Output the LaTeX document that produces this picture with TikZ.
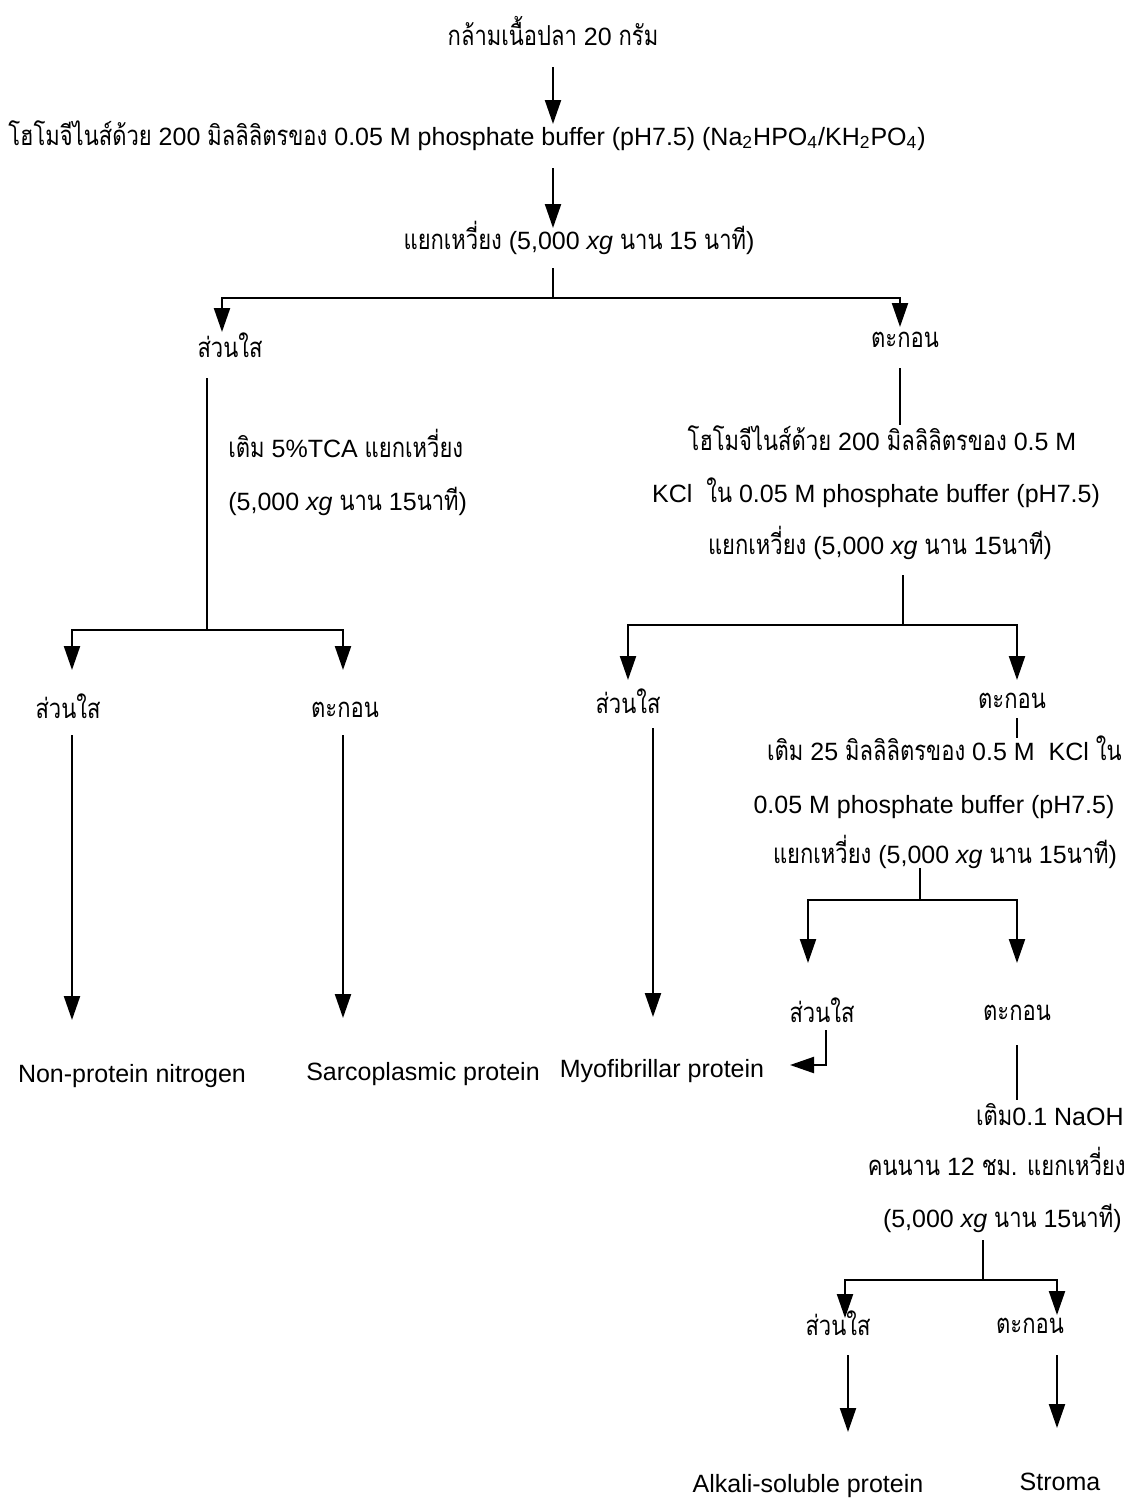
\documentclass[tikz,border=0pt]{standalone}
\usepackage{fontspec}
\setmainfont{Liberation Sans}
\newfontfamily\thai[Script=Thai,Scale=1.1,FakeStretch=0.8]{Loma}
\usetikzlibrary{arrows.meta}
\newcommand{\T}[1]{{\thai #1}}
\begin{document}
\begin{tikzpicture}[x=0.5pt,y=-0.5pt,
  txt/.style={inner sep=0pt,font=\fontsize{12.5}{15}\selectfont,text height=0.75em,text depth=0.25em},
  ln/.style={line width=1.1pt},
  arr/.style={line width=1.1pt,-{Triangle[length=12pt,width=8pt]}}]
\useasboundingbox (0,0) rectangle (1128,1499);
% texts
\node[txt] (t1) at (553,40) {\T{กล้ามเนื้อปลา} 20 \T{กรัม}};
\node[txt] (t2) at (467,140) {\T{โฮโมจีไนส์ด้วย} 200 \T{มิลลิลิตรของ} 0.05 M phosphate buffer (pH7.5) (Na\textsubscript{2}HPO\textsubscript{4}/KH\textsubscript{2}PO\textsubscript{4})};
\node[txt] (t3) at (579,244) {\T{แยกเหวี่ยง} (5,000 \textit{xg} \T{นาน} 15 \T{นาที})};
\node[txt] (t4) at (230,352) {\T{ส่วนใส}};
\node[txt] (t5) at (905,342) {\T{ตะกอน}};
\node[txt,anchor=west] (t6) at (228,452) {\T{เติม} 5\%TCA \T{แยกเหวี่ยง}};
\node[txt,anchor=west] (t7) at (228,505) {(5,000 \textit{xg} \T{นาน} 15\T{นาที})};
\node[txt] (t8) at (882,445) {\T{โฮโมจีไนส์ด้วย} 200 \T{มิลลิลิตรของ} 0.5 M};
\node[txt] (t9) at (876,497) {KCl\ \ \T{ใน} 0.05 M phosphate buffer (pH7.5)};
\node[txt] (t10) at (880,549) {\T{แยกเหวี่ยง} (5,000 \textit{xg} \T{นาน} 15\T{นาที})};
\node[txt] (t11) at (628,708) {\T{ส่วนใส}};
\node[txt] (t12) at (1012,703) {\T{ตะกอน}};
\node[txt,anchor=east] (t13) at (1122,755) {\T{เติม} 25 \T{มิลลิลิตรของ} 0.5 M\ \ KCl \T{ใน}};
\node[txt] (t14) at (934,808) {0.05 M phosphate buffer (pH7.5)};
\node[txt] (t15) at (945,858) {\T{แยกเหวี่ยง} (5,000 \textit{xg} \T{นาน} 15\T{นาที})};
\node[txt] (t16) at (822,1017) {\T{ส่วนใส}};
\node[txt] (t17) at (1017,1015) {\T{ตะกอน}};
\node[txt] (t18) at (662,1072) {Myofibrillar protein};
\node[txt] (t19) at (423,1075) {Sarcoplasmic protein};
\node[txt] (t20) at (132,1077) {Non-protein nitrogen};
\node[txt] (t21) at (68,713) {\T{ส่วนใส}};
\node[txt] (t22) at (345,712) {\T{ตะกอน}};
\node[txt,anchor=east] (t23) at (1124,1120) {\T{เติม}0.1 NaOH};
\node[txt,anchor=east] (t24) at (1126,1170) {\T{คนนาน} 12 \T{ชม. แยกเหวี่ยง}};
\node[txt,anchor=east] (t25) at (1122,1222) {(5,000 \textit{xg} \T{นาน} 15\T{นาที})};
\node[txt] (t26) at (838,1330) {\T{ส่วนใส}};
\node[txt] (t27) at (1030,1328) {\T{ตะกอน}};
\node[txt] (t28) at (808,1487) {Alkali-soluble protein};
\node[txt] (t29) at (1060,1485) {Stroma};
% coordinates
\coordinate (a1s) at (553,67);   \coordinate (a1e) at (553,124);
\coordinate (a2s) at (553,168);  \coordinate (a2e) at (553,228);
\coordinate (b1s) at (553,268);  \coordinate (b1m) at (553,298);
\coordinate (b1l) at (222,298);  \coordinate (b1le) at (222,332);
\coordinate (b1r) at (900,298);  \coordinate (b1re) at (900,327);
\coordinate (c1s) at (207,378);  \coordinate (c1m) at (207,630);
\coordinate (c1l) at (72,630);   \coordinate (c1le) at (72,670);
\coordinate (c1r) at (343,630);  \coordinate (c1re) at (343,670);
\coordinate (d1s) at (900,368);  \coordinate (d1e) at (900,425);
\coordinate (e1s) at (903,575);  \coordinate (e1m) at (903,625);
\coordinate (e1l) at (628,625);  \coordinate (e1le) at (628,680);
\coordinate (e1r) at (1017,625); \coordinate (e1re) at (1017,680);
\coordinate (f1s) at (653,728);  \coordinate (f1e) at (653,1017);
\coordinate (g1s) at (1017,718); \coordinate (g1e) at (1017,738);
\coordinate (h1s) at (920,868);  \coordinate (h1m) at (920,900);
\coordinate (h1l) at (808,900);  \coordinate (h1le) at (808,963);
\coordinate (h1r) at (1017,900); \coordinate (h1re) at (1017,963);
\coordinate (r1s) at (826,1030); \coordinate (r1m) at (826,1065); \coordinate (r1e) at (790,1065);
\coordinate (k1s) at (72,735);   \coordinate (k1e) at (72,1020);
\coordinate (k2s) at (343,735);  \coordinate (k2e) at (343,1018);
\coordinate (m1s) at (1017,1045);\coordinate (m1e) at (1017,1100);
\coordinate (n1s) at (983,1240); \coordinate (n1m) at (983,1280);
\coordinate (n1l) at (845,1280); \coordinate (n1le) at (845,1318);
\coordinate (n1r) at (1057,1280);\coordinate (n1re) at (1057,1315);
\coordinate (p1s) at (848,1355); \coordinate (p1e) at (848,1432);
\coordinate (p2s) at (1057,1355);\coordinate (p2e) at (1057,1428);
% connectors
\draw[arr] (a1s) -- (a1e);
\draw[arr] (a2s) -- (a2e);
\draw[ln] (b1s) -- (b1m);
\draw[arr] (b1m) -- (b1l) -- (b1le);
\draw[arr] (b1m) -- (b1r) -- (b1re);
\draw[ln] (c1s) -- (c1m);
\draw[arr] (c1m) -- (c1l) -- (c1le);
\draw[arr] (c1m) -- (c1r) -- (c1re);
\draw[ln] (d1s) -- (d1e);
\draw[ln] (e1s) -- (e1m);
\draw[arr] (e1m) -- (e1l) -- (e1le);
\draw[arr] (e1m) -- (e1r) -- (e1re);
\draw[arr] (f1s) -- (f1e);
\draw[ln] (g1s) -- (g1e);
\draw[ln] (h1s) -- (h1m);
\draw[arr] (h1m) -- (h1l) -- (h1le);
\draw[arr] (h1m) -- (h1r) -- (h1re);
\draw[arr] (r1s) -- (r1m) -- (r1e);
\draw[arr] (k1s) -- (k1e);
\draw[arr] (k2s) -- (k2e);
\draw[ln] (m1s) -- (m1e);
\draw[ln] (n1s) -- (n1m);
\draw[arr] (n1m) -- (n1l) -- (n1le);
\draw[arr] (n1m) -- (n1r) -- (n1re);
\draw[arr] (p1s) -- (p1e);
\draw[arr] (p2s) -- (p2e);
\end{tikzpicture}
\end{document}
